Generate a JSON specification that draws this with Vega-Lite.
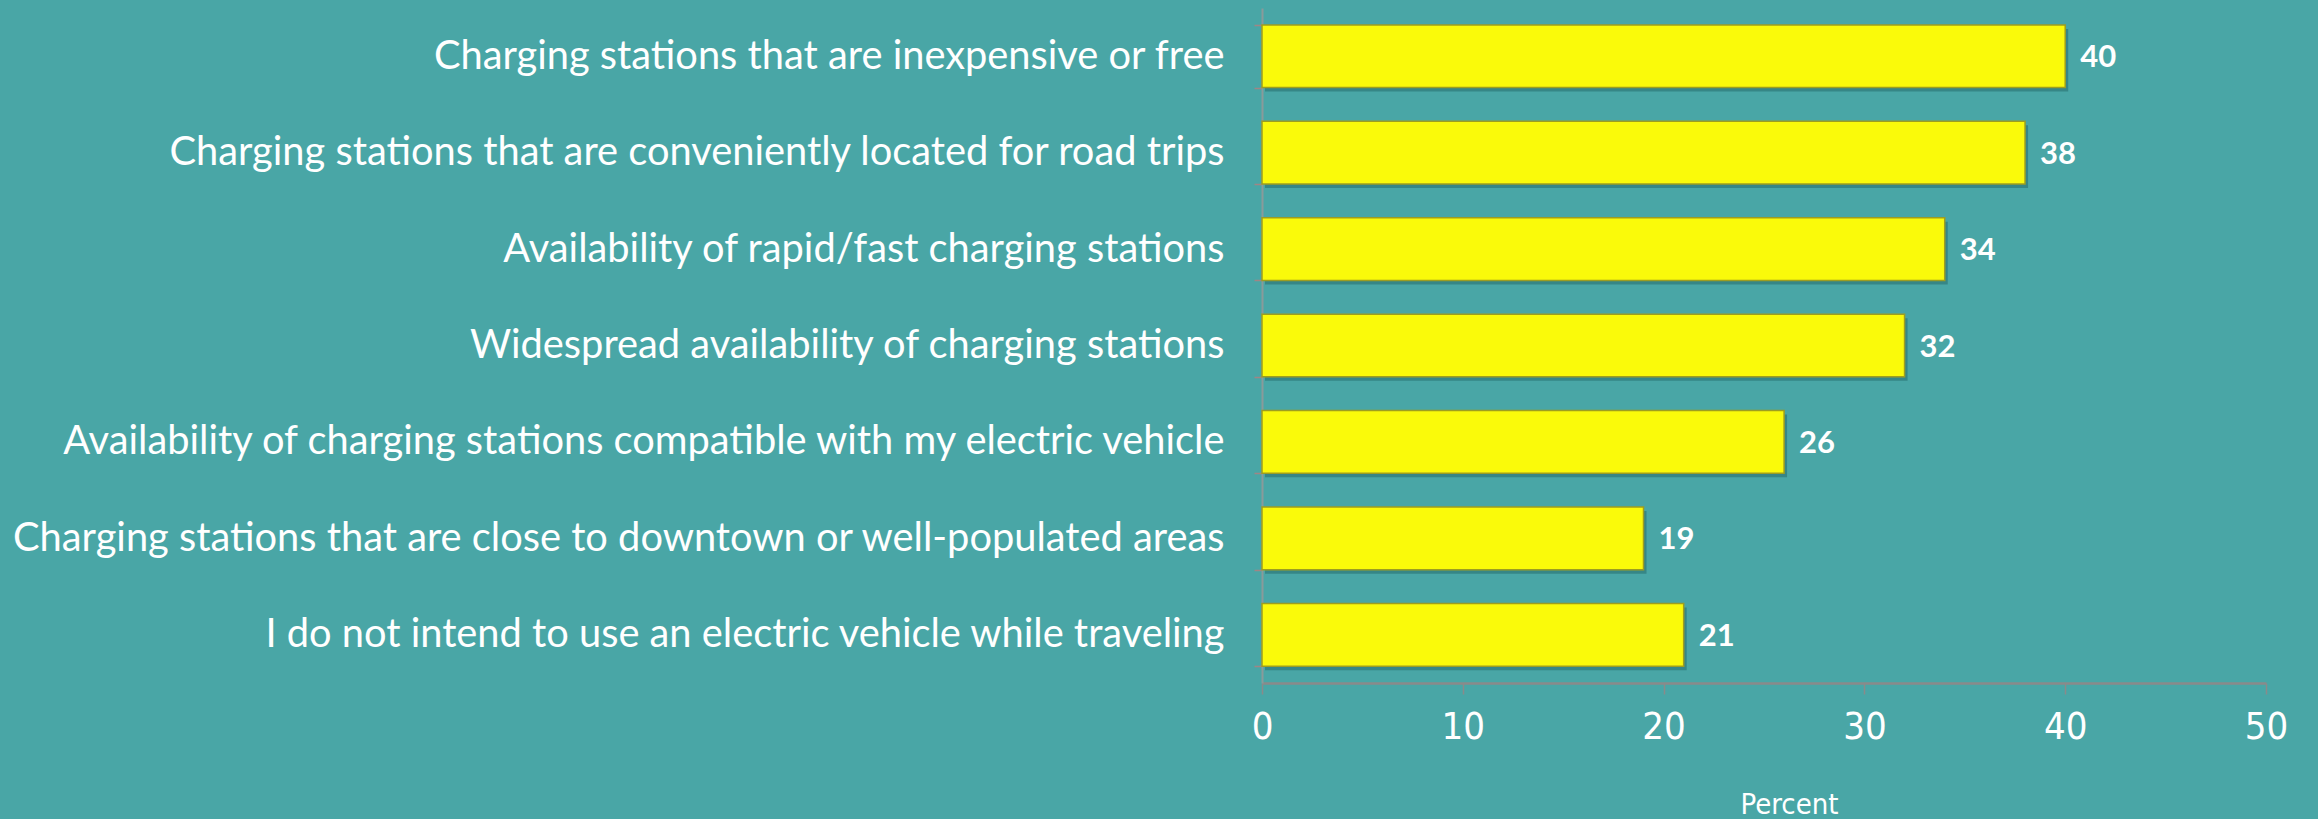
{
  "$schema": "https://vega.github.io/schema/vega-lite/v6.json",
  "width": 1004,
  "height": 675,
  "autosize": {"type": "none"},
  "padding": {"left": 1262, "top": 8, "right": 52, "bottom": 136},
  "background": "#49A6A6",
  "config": {"view": {"stroke": null}},
  "data": {"values": [
    {"item": "Charging stations that are inexpensive or free", "pct": 40},
    {"item": "Charging stations that are conveniently located for road trips", "pct": 38},
    {"item": "Availability of rapid/fast charging stations", "pct": 34},
    {"item": "Widespread availability of charging stations", "pct": 32},
    {"item": "Availability of charging stations compatible with my electric vehicle", "pct": 26},
    {"item": "Charging stations that are close to downtown or well-populated areas", "pct": 19},
    {"item": "I do not intend to use an electric vehicle while traveling", "pct": 21}
  ]},
  "encoding": {
    "y": {
      "field": "item", "type": "nominal", "sort": null,
      "scale": {"paddingInner": 0.35, "paddingOuter": 0.175},
      "axis": {
        "title": null, "domainColor": "#8a9a9a", "domainWidth": 2,
        "tickColor": "#a08585", "tickSize": 8, "tickBand": "extent", "tickWidth": 1.5,
        "labelColor": "#FFFFFF", "labelFont": "Lato", "labelFontSize": 39.8,
        "labelPadding": 30, "labelLimit": 1300
      }
    },
    "x": {
      "field": "pct", "type": "quantitative",
      "scale": {"domain": [0, 50], "nice": false},
      "axis": {
        "values": [0, 10, 20, 30, 40, 50], "grid": false, "labelFlush": false,
        "title": "Percent", "titleColor": "#FFFFFF", "titleFont": "Liberation Sans Narrow, DejaVu Sans Condensed", "titleFontWeight": "normal", "titleFontSize": 29,
        "titleX": 527, "titleY": 121, "titleBaseline": "middle",
        "domainColor": "#8a8a8a", "domainWidth": 2.5,
        "tickColor": "#8a8a8a", "tickSize": 11, "tickWidth": 1.5,
        "labelColor": "#FFFFFF", "labelFont": "Liberation Sans Narrow, DejaVu Sans Condensed", "labelFontSize": 38,
        "labelPadding": 14
      }
    }
  },
  "layer": [
    {"mark": {"type": "bar", "color": "#1f5f5f", "opacity": 0.45, "xOffset": 3, "yOffset": 4}},
    {"mark": {"type": "bar", "color": "#FAFA0A", "stroke": "#9d9d20", "strokeWidth": 1.5}},
    {"mark": {"type": "text", "align": "left", "baseline": "middle", "dx": 15, "dy": 2, "color": "#FFFFFF", "font": "Lato", "fontWeight": "bold", "fontSize": 31},
     "encoding": {"text": {"field": "pct", "type": "quantitative"}}}
  ]
}
